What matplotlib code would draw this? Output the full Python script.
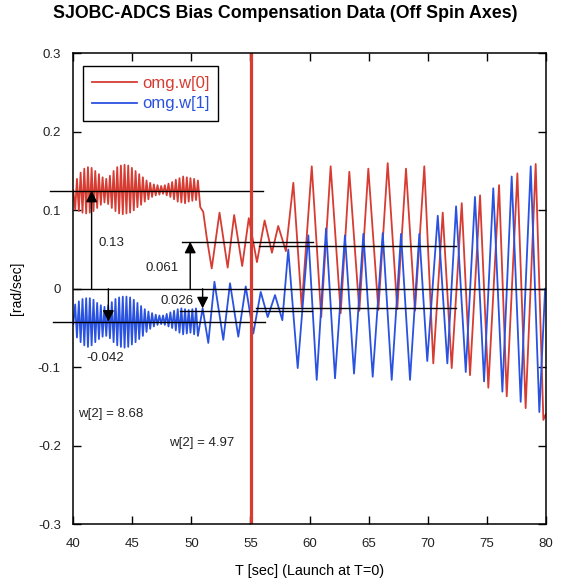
import matplotlib.pyplot as plt

# omg.w[0]: peaks/troughs
red_fast_t = [40.00, 40.16, 40.31, 40.47, 40.62, 40.78, 40.93, 41.09, 41.24, 41.40,
              41.55, 41.71, 41.86, 42.02, 42.17, 42.33, 42.48, 42.64, 42.79, 42.95,
              43.10, 43.26, 43.41, 43.57, 43.72, 43.88, 44.03, 44.19, 44.34, 44.50,
              44.65, 44.81, 44.96, 45.12, 45.27, 45.43, 45.58, 45.74, 45.89, 46.05,
              46.20, 46.36, 46.51, 46.67, 46.82, 46.98, 47.13, 47.29, 47.44, 47.60,
              47.75, 47.91, 48.06, 48.22, 48.37, 48.53, 48.68, 48.84, 48.99, 49.15,
              49.30, 49.46, 49.61, 49.77, 49.92, 50.08, 50.23, 50.39]
red_fast_v = [0.125, 0.101, 0.140, 0.099, 0.148, 0.097, 0.153, 0.096, 0.155, 0.097,
              0.154, 0.099, 0.150, 0.103, 0.146, 0.107, 0.142, 0.110, 0.140, 0.108,
              0.144, 0.103, 0.150, 0.099, 0.155, 0.096, 0.157, 0.095, 0.158, 0.096,
              0.157, 0.097, 0.154, 0.100, 0.150, 0.104, 0.146, 0.107, 0.142, 0.111,
              0.138, 0.114, 0.135, 0.117, 0.133, 0.119, 0.132, 0.120, 0.131, 0.121,
              0.132, 0.119, 0.134, 0.117, 0.136, 0.114, 0.139, 0.111, 0.141, 0.110,
              0.143, 0.109, 0.142, 0.111, 0.141, 0.112, 0.140, 0.113]
red_slow_t = [50.55, 50.75, 51.00, 51.30, 51.72, 52.38, 53.07, 53.62, 54.30, 54.86,
              55.55, 56.20, 56.82, 57.35, 58.00, 58.63, 59.34, 60.19, 60.99, 61.79,
              62.64, 63.37, 64.22, 64.98, 65.83, 66.62, 67.43, 68.17, 68.93, 69.72,
              70.48, 71.28, 72.04, 72.89, 73.59, 74.44, 75.14, 76.05, 76.70, 77.60,
              78.30, 79.15, 79.80, 80.00]
red_slow_v = [0.138, 0.104, 0.098, 0.065, 0.026, 0.097, 0.027, 0.094, 0.029, 0.090,
              0.034, 0.087, 0.046, 0.080, 0.048, 0.135, -0.023, 0.156, -0.036, 0.156,
              -0.031, 0.149, -0.028, 0.153, -0.027, 0.160, -0.026, 0.153, -0.028, 0.156,
              -0.095, 0.097, -0.101, 0.109, -0.110, 0.119, -0.126, 0.132, -0.137, 0.147,
              -0.152, 0.159, -0.167, -0.160]

# omg.w[1]
blue_fast_t = red_fast_t
blue_fast_v = [-0.045, -0.020, -0.062, -0.016, -0.068, -0.013, -0.072, -0.012, -0.074, -0.012,
               -0.072, -0.014, -0.068, -0.018, -0.064, -0.021, -0.061, -0.023, -0.060, -0.021,
               -0.063, -0.017, -0.068, -0.013, -0.072, -0.011, -0.074, -0.010, -0.075, -0.010,
               -0.074, -0.011, -0.071, -0.014, -0.068, -0.018, -0.064, -0.022, -0.060, -0.026,
               -0.055, -0.029, -0.051, -0.031, -0.048, -0.033, -0.046, -0.034, -0.045, -0.034,
               -0.046, -0.032, -0.048, -0.030, -0.050, -0.028, -0.053, -0.026, -0.056, -0.025,
               -0.058, -0.026, -0.057, -0.027, -0.056, -0.026, -0.058, -0.025]
blue_slow_t = [50.55, 50.95, 51.43, 51.95, 52.70, 53.27, 53.97, 54.60, 55.24, 55.87,
               56.46, 57.08, 57.70, 58.20, 59.00, 59.90, 60.61, 61.40, 62.16, 63.00,
               63.77, 64.56, 65.35, 66.20, 66.96, 67.75, 68.51, 69.30, 69.97, 70.86,
               71.67, 72.41, 73.23, 74.01, 74.78, 75.56, 76.33, 77.12, 77.88, 78.73,
               79.46, 79.95]
blue_slow_v = [-0.060, -0.025, -0.069, 0.009, -0.065, 0.007, -0.061, 0.003, -0.057, -0.004,
               -0.036, -0.008, -0.040, 0.050, -0.101, 0.068, -0.116, 0.077, -0.114, 0.068,
               -0.108, 0.070, -0.112, 0.071, -0.116, 0.070, -0.116, 0.070, -0.092, 0.093,
               -0.095, 0.105, -0.106, 0.117, -0.118, 0.128, -0.131, 0.143, -0.144, 0.156,
               -0.157, 0.000]

# bias levels (value, t_start, t_end)
levels = [(0.125, 38.0, 56.05), (-0.042, 38.25, 56.2), (0.060, 49.2, 60.3),
          (0.055, 55.7, 72.4), (-0.028, 49.0, 60.2), (-0.025, 55.5, 72.4)]
arrows = [(41.55, 0.125), (42.97, -0.042), (49.9, 0.060), (50.95, -0.025)]
labels = [(42.12, 0.058, '0.13'), (46.13, 0.026, '0.061'), (47.40, -0.016, '0.026'),
          (41.13, -0.088, '-0.042'), (40.42, -0.159, 'w[2] = 8.68'),
          (48.13, -0.196, 'w[2] = 4.97')]
t_spin = 55.02

RED = '#d63c32'
BLUE = '#2a52e0'
plt.rcParams['font.family'] = ['Liberation Sans', 'DejaVu Sans']

fig = plt.figure(figsize=(5.63, 5.83), dpi=100)
ax = fig.add_axes([0.1302, 0.1007, 0.8391, 0.8079])

ax.plot(red_fast_t + red_slow_t, red_fast_v + red_slow_v, color=RED, lw=1.3, label='omg.w[0]')
ax.plot(blue_fast_t + blue_slow_t, blue_fast_v + blue_slow_v, color=BLUE, lw=1.3, label='omg.w[1]')

ax.axhline(0, color='k', lw=1.0)
for v, t0, t1 in levels:
    ax.plot([t0, t1], [v, v], color='k', lw=1.0, clip_on=False)
for t, v in arrows:
    ax.annotate('', xy=(t, v), xytext=(t, 0),
                arrowprops=dict(arrowstyle='-|>', color='k', lw=1.0,
                                mutation_scale=17, shrinkA=0, shrinkB=0))
for t, v, s in labels:
    ax.text(t, v, s, fontsize=9.5, color='#222222', ha='left', va='center')

ax.axvline(t_spin, color=RED, lw=2.3)

ax.set_xlim(40, 80)
ax.set_ylim(-0.3, 0.3)
ax.set_xticks(range(40, 81, 5))
ax.set_yticks([-0.3, -0.2, -0.1, 0, 0.1, 0.2, 0.3])
ax.set_yticklabels(['-0.3', '-0.2', '-0.1', '0', '0.1', '0.2', '0.3'])
ax.tick_params(direction='in', top=True, right=True, length=6, width=1.0,
               labelsize=9.5, labelcolor='#222222')
ax.tick_params(axis='x', pad=10)
ax.tick_params(axis='y', pad=9)
for sp in ax.spines.values():
    sp.set_linewidth(1.1)

ax.set_xlabel('T [sec] (Launch at T=0)', fontsize=10.4, labelpad=10)
ax.set_ylabel('[rad/sec]', fontsize=10)
ax.yaxis.set_label_coords(-0.105, 0.5)

leg = ax.legend(loc='upper left', bbox_to_anchor=(0.02, 0.972), fontsize=12,
                handlelength=2.7, fancybox=False, edgecolor='k', framealpha=1,
                labelcolor='linecolor', borderpad=0.55, labelspacing=0.35,
                handletextpad=0.3, borderaxespad=0)
leg.get_frame().set_linewidth(1.0)

fig.text(285.5 / 563, 1 - 14 / 583, 'SJOBC-ADCS Bias Compensation Data (Off Spin Axes)',
         ha='center', va='center', fontsize=12.8, fontweight='bold')

fig.savefig('out.png', dpi=100)
